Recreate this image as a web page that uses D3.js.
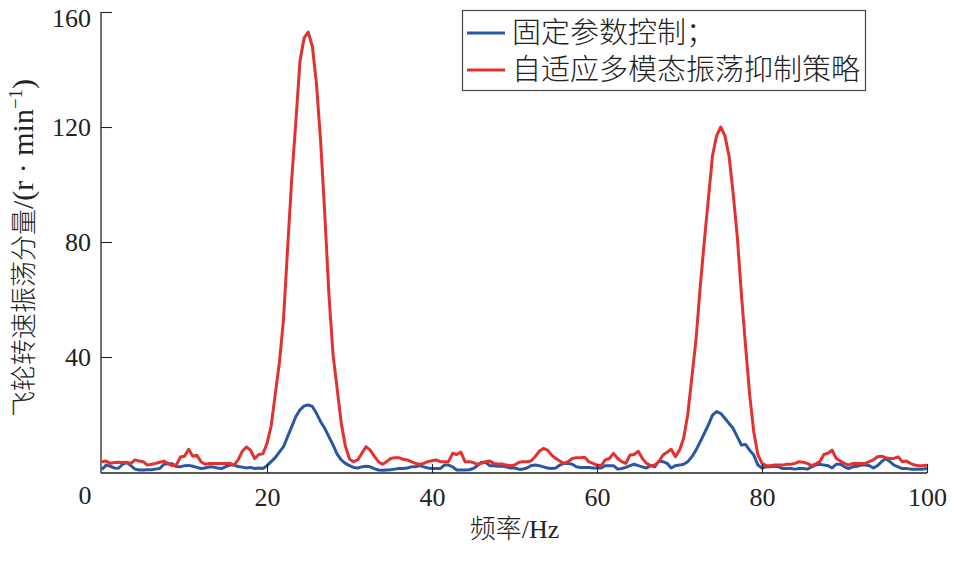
<!DOCTYPE html>
<html>
<head>
<meta charset="utf-8">
<script src="https://cdn.jsdelivr.net/npm/d3@7"></script>
<style>
  body { margin: 0; background: #fff; }
  .num { font-family: "Liberation Serif", "DejaVu Serif", serif; font-size: 26px; fill: #222; }
  .cjk { font-family: "Liberation Serif", "Noto Sans CJK SC", serif; font-weight: 300; fill: #222; }
</style>
</head>
<body>
<div id="chart"></div>
<script>
// frequency grid, Hz (0.5 Hz steps)
const freq = d3.range(0, 100.5, 0.5);

// fixed-parameter control
const fixedCtrl = [
  0.9, 2.4, 2.0, 1.4, 1.3, 2.7, 3.3, 2.2, 1.0, 0.7,
  0.7, 0.8, 0.8, 1.0, 1.2, 2.7, 2.9, 2.9, 1.9, 1.8,
  2.2, 2.3, 2.0, 1.6, 1.2, 1.4, 1.8, 1.7, 1.4, 1.2,
  1.9, 2.4, 2.4, 1.9, 1.7, 1.4, 1.6, 1.2, 1.4, 1.2,
  2.2, 3.6, 5.0, 6.9, 8.8, 12.3, 15.8, 19.3, 21.6, 23.0,
  23.3, 22.8, 20.4, 17.5, 15.2, 12.3, 9.4, 6.2, 4.2, 3.0,
  2.2, 1.6, 1.4, 1.8, 2.0, 1.8, 1.2, 0.7, 0.6, 0.7,
  0.8, 1.0, 1.2, 1.2, 1.4, 1.8, 1.8, 2.2, 1.8, 1.4,
  1.2, 1.2, 1.2, 2.4, 2.4, 1.8, 0.7, 0.7, 0.7, 0.8,
  1.2, 2.2, 3.4, 3.4, 2.2, 2.2, 2.0, 2.0, 1.8, 1.4,
  1.4, 1.0, 1.0, 1.4, 2.2, 2.4, 2.2, 1.8, 1.4, 1.2,
  1.4, 2.4, 3.0, 3.0, 2.7, 1.8, 1.6, 1.6, 1.6, 1.4,
  1.4, 1.4, 2.2, 2.2, 2.2, 1.0, 1.2, 1.6, 2.2, 2.7,
  2.2, 1.8, 1.4, 2.2, 1.8, 3.8, 3.6, 3.0, 1.4, 2.2,
  2.4, 2.7, 3.6, 5.3, 7.6, 10.5, 13.4, 16.4, 19.8, 21.0,
  20.4, 18.7, 16.9, 15.2, 12.3, 9.4, 9.6, 7.6, 5.9, 2.4,
  1.4, 1.8, 1.8, 2.0, 1.8, 1.2, 1.2, 1.2, 1.0, 1.2,
  1.2, 1.0, 1.8, 2.4, 2.7, 2.4, 2.2, 1.4, 2.7, 2.7,
  1.8, 1.2, 1.8, 2.0, 2.4, 2.4, 2.2, 1.4, 2.2, 3.6,
  4.7, 3.6, 2.4, 1.8, 1.2, 1.2, 1.0, 1.0, 1.0, 1.0,
  1.2
];

// adaptive multi-mode oscillation suppression
const adaptiveCtrl = [
  3.6, 3.8, 3.0, 3.3, 3.4, 3.3, 3.4, 3.0, 4.2, 3.8,
  3.6, 2.4, 2.7, 3.0, 3.4, 3.8, 3.0, 2.2, 2.4, 5.2,
  5.5, 7.9, 5.5, 5.8, 3.6, 2.7, 3.0, 3.0, 3.0, 3.0,
  3.0, 3.0, 2.4, 4.2, 7.2, 8.7, 7.6, 4.7, 6.1, 6.3,
  9.9, 16, 27, 38, 53, 78, 102, 122, 143, 151,
  153, 148, 135, 115, 90, 62, 41, 29, 17, 9,
  4.5, 3.6, 4.2, 6.5, 8.8, 7.6, 5.5, 3.6, 2.7, 3.6,
  4.7, 5.0, 5.0, 4.4, 4.2, 3.6, 3.0, 2.7, 3.0, 3.6,
  3.9, 4.2, 3.6, 3.6, 3.6, 6.5, 6.1, 6.9, 3.6, 3.6,
  3.3, 2.7, 3.0, 3.6, 3.8, 3.0, 2.8, 2.8, 2.4, 2.2,
  2.4, 3.3, 3.6, 3.6, 3.8, 5.3, 7.2, 8.2, 7.6, 5.9,
  4.7, 3.8, 3.0, 3.6, 4.7, 5.0, 5.0, 5.1, 3.6, 3.0,
  2.4, 2.2, 4.2, 4.7, 6.5, 4.7, 3.6, 3.0, 5.9, 6.1,
  7.2, 4.7, 3.0, 2.2, 2.4, 3.6, 5.9, 6.9, 7.9, 5.3,
  7.6, 11.7, 20, 33, 46, 64, 80, 95, 110, 117,
  120, 117, 110, 97, 82, 62, 44, 27, 14, 6,
  3.0, 2.2, 2.2, 2.4, 2.4, 2.4, 2.7, 2.7, 3.0, 3.6,
  3.4, 3.0, 2.2, 2.8, 3.6, 6.1, 6.5, 7.6, 4.7, 3.8,
  3.0, 2.4, 3.0, 3.0, 3.0, 3.0, 3.6, 4.2, 5.3, 5.5,
  5.0, 4.7, 4.7, 5.3, 3.6, 3.8, 3.0, 2.4, 2.2, 2.2,
  2.4
];

const seriesNames = ["固定参数控制；", "自适应多模态振荡抑制策略"];
const seriesColors = ["#2a57a2", "#e2312f"];
const xTicks = [20, 40, 60, 80, 100];
const yTicks = [40, 80, 120, 160];

const width = 955, height = 565;
const plotLeft = 102, plotRight = 927, plotTop = 12, plotBottom = 472;

const svg = d3.select('#chart').append('svg')
    .attr('width', width)
    .attr('height', height);

const x = d3.scaleLinear().domain([0, 100]).range([plotLeft, plotRight]);
const y = d3.scaleLinear().domain([0, 160]).range([plotBottom, plotTop]);

// series lines
const line = (vals) => d3.line()
    .x((d, i) => x(freq[i]))
    .y(d => y(d))(vals);

[fixedCtrl, adaptiveCtrl].forEach((vals, k) => {
    svg.append('path')
        .attr('d', line(vals))
        .attr('fill', 'none')
        .attr('stroke', seriesColors[k])
        .attr('stroke-width', 3)
        .attr('stroke-linejoin', 'round');
});

// axes, ticks pointing inward
const xAxis = svg.append('g')
    .attr('transform', `translate(0, ${plotBottom + 1})`)
    .call(d3.axisBottom(x).tickValues(xTicks).tickSize(-9).tickSizeOuter(0).tickPadding(15));

const yAxis = svg.append('g')
    .attr('transform', `translate(${plotLeft - 1}, 0)`)
    .call(d3.axisLeft(y).tickValues(yTicks).tickSize(-11).tickSizeOuter(0).tickPadding(10));

[xAxis, yAxis].forEach(g => {
    g.select('.domain').attr('stroke', '#222').attr('stroke-width', 1.3);
    g.selectAll('.tick line').attr('stroke', '#222').attr('stroke-width', 1.1);
    g.selectAll('.tick text').attr('class', 'num').attr('font-size', null).attr('font-family', null);
});
yAxis.select('.domain').attr('d', `M0,${y(160)}V${plotBottom + 1}`);
xAxis.select('.domain').attr('d', `M${plotLeft - 1},0H${plotRight}`);
// top label sits a little below its tick so it stays inside the page
yAxis.selectAll('.tick text').filter(d => d === 160).attr('dy', '0.55em');

// shared zero label at the corner
svg.append('text')
    .attr('class', 'num')
    .attr('x', x(0) - 17)
    .attr('y', 504)
    .attr('text-anchor', 'middle')
    .text('0');

// axis titles
svg.append('text')
    .attr('class', 'cjk')
    .attr('x', (plotLeft + plotRight) / 2)
    .attr('y', 538)
    .attr('text-anchor', 'middle')
    .style('font-size', '26px')
    .text('频率/Hz');

const yTitle = svg.append('text')
    .attr('class', 'cjk')
    .attr('transform', 'translate(33, 248) rotate(-90)')
    .attr('text-anchor', 'middle')
    .style('font-size', '26px');
yTitle.append('tspan').text('飞轮转速振荡分量');
yTitle.append('tspan').style('font-size', '30px').text('/(r · min');
yTitle.append('tspan').attr('dy', -11).style('font-size', '19px').text('−1');
yTitle.append('tspan').attr('dy', 11).style('font-size', '30px').text(')');

// legend
const legend = svg.append('g');
legend.append('rect')
    .attr('x', 462.5).attr('y', 10.5)
    .attr('width', 403).attr('height', 80)
    .attr('fill', '#fff')
    .attr('stroke', '#444')
    .attr('stroke-width', 1.2);

seriesNames.forEach((name, i) => {
    const ly = 33 + i * 37;
    legend.append('line')
        .attr('x1', 467).attr('x2', 505)
        .attr('y1', ly).attr('y2', ly)
        .attr('stroke', seriesColors[i])
        .attr('stroke-width', 3);
    legend.append('text')
        .attr('class', 'cjk')
        .attr('x', 512)
        .attr('y', ly + 10)
        .style('font-size', '29px')
        .text(name);
});
</script>
</body>
</html>
